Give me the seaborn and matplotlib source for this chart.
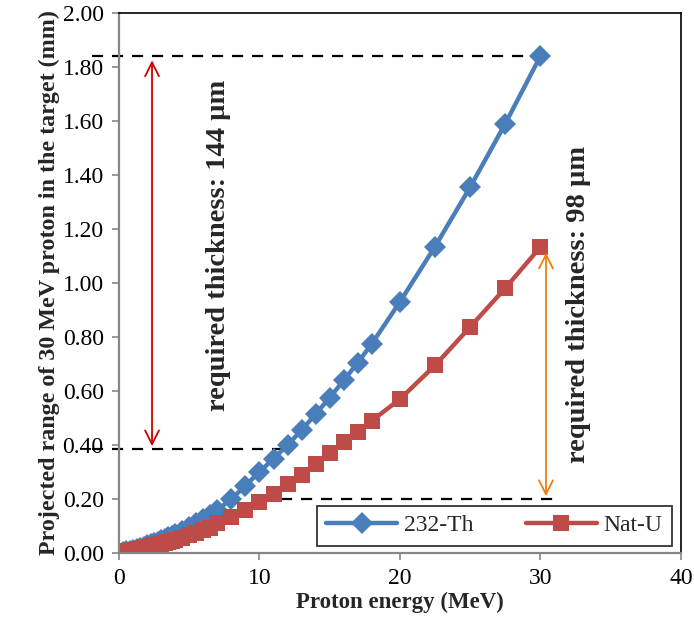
#%% Librerias
import numpy as np
import pandas as pd
import matplotlib
matplotlib.use('Agg')
import matplotlib.pyplot as plt
import seaborn as sns

#%% Datos
energia = [0, 0.25, 0.5, 0.75, 1, 1.25, 1.5, 1.75, 2, 2.25, 2.5, 2.75, 3, 3.25, 3.5, 3.75,
           4, 4.5, 5, 5.5, 6, 6.5, 7, 8, 9, 10, 11, 12, 13, 14, 15, 16, 17, 18,
           20, 22.5, 25, 27.5, 30]
rango_th = [0.001, 0.003, 0.006, 0.009, 0.013, 0.016, 0.020, 0.024, 0.028, 0.032, 0.037, 0.042,
            0.047, 0.052, 0.058, 0.064, 0.070, 0.082, 0.095, 0.110, 0.125, 0.142, 0.160,
            0.200, 0.250, 0.300, 0.350, 0.400, 0.455, 0.515, 0.575, 0.640, 0.705, 0.775,
            0.930, 1.135, 1.355, 1.590, 1.840]
rango_u = [0.001, 0.003, 0.006, 0.008, 0.011, 0.013, 0.016, 0.019, 0.022, 0.025, 0.028, 0.031,
           0.034, 0.038, 0.041, 0.045, 0.049, 0.057, 0.065, 0.074, 0.084, 0.094, 0.110,
           0.135, 0.160, 0.190, 0.220, 0.255, 0.290, 0.330, 0.370, 0.410, 0.450, 0.490,
           0.570, 0.695, 0.837, 0.981, 1.133]
series = ['232-Th', 'Nat-U']
colores = ['#4a7ebb', '#be4b48']

# lineas de referencia y flechas
y_th30 = 1.84
y_th_min = 0.385
y_u_min = 0.20
y_u30 = 1.133
texto_th = 'required thickness: 144 \u00b5m'
texto_u = 'required thickness: 98 \u00b5m'

df = pd.DataFrame({
    'E': energia * 2,
    'R': rango_th + rango_u,
    'serie': [series[0]] * len(energia) + [series[1]] * len(energia),
})

#%% Grafica
sns.set_style('ticks')
plt.rcParams['font.family'] = ['Liberation Serif', 'DejaVu Serif']

fig = plt.figure(figsize=(6.94, 6.38), dpi=100)
ax = fig.add_axes([0.1715, 0.1332, 0.8095, 0.8464])

# Th primero, U encima (como en la figura original)
sns.lineplot(data=df[df.serie == series[0]], x='E', y='R', color=colores[0], marker='D',
             linewidth=3.2, markersize=11, markeredgewidth=0, ax=ax, legend=False)
sns.lineplot(data=df[df.serie == series[1]], x='E', y='R', color=colores[1], marker='s',
             linewidth=3.2, markersize=12, markeredgewidth=0, ax=ax, legend=False)

# lineas punteadas
ax.plot([-1.9, 30], [y_th30, y_th30], '--', color='k', lw=1.6, dashes=(5, 4), clip_on=False, zorder=1)
ax.plot([-1.9, 11.5], [y_th_min, y_th_min], '--', color='k', lw=1.6, dashes=(5, 4), clip_on=False, zorder=1)
ax.plot([11.5, 31], [y_u_min, y_u_min], '--', color='k', lw=1.6, dashes=(5, 4), clip_on=False, zorder=1)

# flechas
ax.annotate('', xy=(2.35, y_th30 - 0.005), xytext=(2.35, y_th_min),
            arrowprops=dict(arrowstyle='<->', color='#d00000', lw=1.3, mutation_scale=25))
ax.annotate('', xy=(30.4, y_u30 - 0.01), xytext=(30.4, y_u_min),
            arrowprops=dict(arrowstyle='<->', color='#f07f09', lw=1.3, mutation_scale=25))

ax.text(7.05, 1.14, texto_th, rotation=90, ha='center', va='center',
        fontsize=20.5, fontweight='bold')
ax.text(32.7, 0.92, texto_u, rotation=90, ha='center', va='center',
        fontsize=20.5, fontweight='bold')

ax.set_xlim(0, 40)
ax.set_ylim(0, 2.0)
ax.set_xticks([0, 10, 20, 30, 40])
ax.set_yticks(np.arange(0, 2.01, 0.2))
ax.yaxis.set_major_formatter(matplotlib.ticker.FormatStrFormatter('%.2f'))
ax.tick_params(labelsize=17, colors='#868686', length=5, width=1.2, pad=6)
for lab in ax.get_xticklabels() + ax.get_yticklabels():
    lab.set_color('k')

for s in ['left', 'bottom']:
    ax.spines[s].set_color('#868686')
    ax.spines[s].set_linewidth(1.6)
for s in ['top', 'right']:
    ax.spines[s].set_color('k')
    ax.spines[s].set_linewidth(1.2)

ax.set_xlabel('Proton energy (MeV)', fontsize=16.5, fontweight='bold', labelpad=2)
ax.set_ylabel('Projected range of 30 MeV proton in the target (mm)',
              fontsize=17.3, fontweight='bold', labelpad=2)

# leyenda
handles = [plt.Line2D([], [], color=colores[0], lw=3.2, marker='D', ms=11, mew=0),
           plt.Line2D([], [], color=colores[1], lw=3.2, marker='s', ms=12, mew=0)]
leg = ax.legend(handles, series, loc='lower right', ncol=2, fontsize=17,
                frameon=True, fancybox=False, edgecolor='k', borderaxespad=0.3,
                bbox_to_anchor=(0.997, 0.0), handlelength=3, columnspacing=2.2,
                borderpad=0.4, handletextpad=0.3)
leg.get_frame().set_linewidth(1.3)

fig.savefig('out.png', dpi=100)
